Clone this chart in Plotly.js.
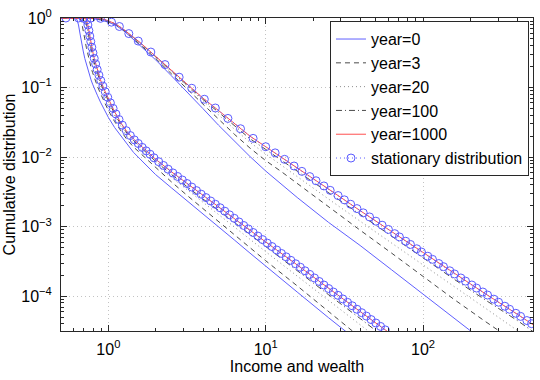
<!DOCTYPE html>
<html><head><meta charset="utf-8">
<script src="https://cdn.plot.ly/plotly-3.0.1.min.js"></script>
<style>html,body{margin:0;padding:0;background:#fff}#chart{width:540px;height:380px}</style>
</head><body><div id="chart"></div>
<script>
// ---------- DATA ----------
// Wealth (upper family): common x grid for the lines
const wealthX = [0.5, 0.708, 0.794, 0.891, 1, 1.122, 1.259, 1.413, 1.585, 1.995, 2.512, 3.162, 3.981, 5.012, 6.310, 7.943, 10, 12.59, 15.85, 25.12, 39.81, 63.10, 100, 158.5, 251.2, 398.1, 501.2];
const wealthYear0    = [1, 1, 0.985, 0.933, 0.871, 0.776, 0.646, 0.513, 0.407, 0.251, 0.148, 0.0871, 0.0501, 0.0288, 0.0170, 0.0102, 0.00631, 0.00407, 0.00263, 0.00115, 0.000537, 0.000240, 0.000107, 0.0000479, 0.0000214];
const wealthYear3    = [1, 1, 0.991, 0.955, 0.887, 0.791, 0.658, 0.527, 0.422, 0.263, 0.158, 0.0955, 0.0569, 0.0347, 0.0214, 0.0135, 0.00891, 0.00617, 0.00417, 0.00191, 0.000891, 0.000417, 0.000191, 0.0000891, 0.0000427, 0.0000209];
const wealthYear20   = [1, 1, 1, 0.984, 0.900, 0.802, 0.667, 0.537, 0.435, 0.272, 0.168, 0.104, 0.0638, 0.0405, 0.0254, 0.0163, 0.0111, 0.00764, 0.00518, 0.00249, 0.00120, 0.000582, 0.000277, 0.000134, 0.0000661, 0.0000324, 0.0000224];
const wealthYear100  = [1, 1, 1, 0.986, 0.908, 0.809, 0.673, 0.546, 0.442, 0.278, 0.174, 0.109, 0.0679, 0.0442, 0.0282, 0.0184, 0.0129, 0.00902, 0.00617, 0.00302, 0.00148, 0.000733, 0.000355, 0.000174, 0.0000871, 0.0000447, 0.0000309];
const wealthYear1000 = [1, 1, 1, 0.989, 0.912, 0.813, 0.676, 0.550, 0.447, 0.282, 0.178, 0.112, 0.0708, 0.0468, 0.0302, 0.0200, 0.0141, 0.0100, 0.00692, 0.00347, 0.00170, 0.000851, 0.000417, 0.000209, 0.000107, 0.0000550, 0.0000389];
// Wealth stationary distribution (circle markers)
const wealthStatX = [0.537, 0.776, 0.891, 1.047, 1.175, 1.349, 1.549, 1.862, 2.291, 2.818, 3.388, 4.074, 4.786, 5.754, 6.918, 8.318, 10, 11.48, 13.18, 15.14, 16.98, 19.05, 20.89, 23.44, 25.70, 28.84, 31.62, 34.67, 38.02, 41.69, 45.71, 50.12, 54.95, 60.26, 66.07, 70.79, 77.62, 83.18, 91.20, 97.72, 107.2, 114.8, 125.9, 134.9, 147.9, 158.5, 173.8, 186.2, 204.2, 218.8, 239.9, 257.0, 281.8, 302.0, 331.1, 354.8, 389.0, 416.9, 457.1, 489.8];
const wealthStatY = [1, 1, 0.989, 0.871, 0.755, 0.597, 0.466, 0.324, 0.214, 0.141, 0.0977, 0.0679, 0.0508, 0.0360, 0.0256, 0.0186, 0.0141, 0.0115, 0.00929, 0.00745, 0.00624, 0.00525, 0.00457, 0.00385, 0.00333, 0.00280, 0.00243, 0.00210, 0.00182, 0.00158, 0.00138, 0.00120, 0.00105, 0.000912, 0.000793, 0.000712, 0.000617, 0.000555, 0.000481, 0.000432, 0.000376, 0.000339, 0.000295, 0.000266, 0.000232, 0.000209, 0.000183, 0.000165, 0.000145, 0.000131, 0.000115, 0.000104, 0.0000907, 0.0000820, 0.0000718, 0.0000649, 0.0000568, 0.0000513, 0.0000447, 0.0000403];

// Income (lower family): common x grid for the lines
const incomeX = [0.5, 0.603, 0.631, 0.646, 0.661, 0.676, 0.692, 0.708, 0.724, 0.741, 0.759, 0.776, 0.794, 0.813, 0.851, 0.891, 0.933, 1, 1.096, 1.202, 1.318, 1.445, 1.660, 1.995, 2.512, 3.162, 3.981, 5.012, 6.310, 7.943, 10, 15.85, 25.12, 39.81, 63.10];
const incomeYear0    = [1, 1, 0.955, 0.794, 0.589, 0.427, 0.335, 0.263, 0.216, 0.178, 0.151, 0.129, 0.112, 0.0977, 0.0776, 0.0617, 0.0501, 0.0372, 0.0266, 0.0204, 0.0151, 0.0117, 0.00851, 0.00562, 0.00363, 0.00234, 0.00151, 0.001, 0.000646, 0.000417, 0.000269, 0.000115, 0.0000490, 0.0000214];
const incomeYear3    = [1, 1, 1, 0.989, 0.977, 0.871, 0.684, 0.501, 0.380, 0.295, 0.240, 0.195, 0.164, 0.140, 0.105, 0.0822, 0.0653, 0.0468, 0.0324, 0.0237, 0.0176, 0.0140, 0.0104, 0.00708, 0.00442, 0.00282, 0.00182, 0.00120, 0.000776, 0.000501, 0.000324, 0.000141, 0.0000603, 0.0000257];
const incomeYear20   = [1, 1, 1, 1, 1, 1, 0.977, 0.871, 0.684, 0.501, 0.380, 0.295, 0.240, 0.195, 0.140, 0.105, 0.0822, 0.0589, 0.0389, 0.0275, 0.0202, 0.0158, 0.0116, 0.00794, 0.00513, 0.00339, 0.00224, 0.00151, 0.001, 0.000661, 0.000437, 0.000195, 0.0000871, 0.0000389, 0.0000174];
const incomeYear100  = [1, 1, 1, 1, 1, 1, 1, 0.966, 0.841, 0.646, 0.468, 0.363, 0.282, 0.229, 0.158, 0.117, 0.0902, 0.0638, 0.0417, 0.0292, 0.0219, 0.0173, 0.0127, 0.00871, 0.00565, 0.00376, 0.00251, 0.00172, 0.00115, 0.000767, 0.000513, 0.000234, 0.000105, 0.0000479, 0.0000214];
const incomeYear1000 = [1, 1, 1, 1, 1, 1, 1, 0.989, 0.955, 0.794, 0.589, 0.427, 0.335, 0.263, 0.178, 0.129, 0.0977, 0.0692, 0.0447, 0.0309, 0.0229, 0.0182, 0.0135, 0.00933, 0.00617, 0.00417, 0.00282, 0.00195, 0.00132, 0.000891, 0.000603, 0.000282, 0.000129, 0.0000603, 0.0000282];
// Income stationary distribution (circle markers)
const incomeStatX = [0.646, 0.692, 0.726, 0.741, 0.752, 0.762, 0.773, 0.785, 0.798, 0.813, 0.830, 0.849, 0.871, 0.895, 0.923, 0.955, 0.991, 1.030, 1.072, 1.117, 1.169, 1.227, 1.300, 1.380, 1.462, 1.549, 1.641, 1.738, 1.841, 1.950, 2.089, 2.239, 2.399, 2.570, 2.754, 2.951, 3.162, 3.388, 3.631, 3.890, 4.169, 4.467, 4.786, 5.129, 5.495, 5.888, 6.310, 6.761, 7.244, 7.762, 8.318, 8.913, 9.550, 10.23, 10.96, 11.75, 12.59, 13.49, 14.45, 15.49, 16.60, 17.78, 19.05, 20.42, 21.88, 23.44, 25.12, 26.92, 28.84, 30.90, 33.11, 35.48, 38.02, 40.74, 43.65, 46.77, 50.12, 53.70, 57.54];
const incomeStatY = [1, 1, 0.933, 0.794, 0.661, 0.550, 0.457, 0.380, 0.316, 0.263, 0.219, 0.182, 0.151, 0.126, 0.105, 0.0871, 0.0724, 0.0603, 0.0501, 0.0417, 0.0347, 0.0288, 0.0240, 0.0204, 0.0177, 0.0157, 0.0138, 0.0123, 0.0110, 0.00977, 0.00859, 0.00759, 0.00670, 0.00593, 0.00527, 0.00469, 0.00417, 0.00371, 0.00330, 0.00293, 0.00262, 0.00234, 0.00210, 0.00187, 0.00167, 0.00148, 0.00132, 0.00117, 0.00104, 0.000927, 0.000824, 0.000733, 0.000652, 0.000580, 0.000518, 0.000462, 0.000412, 0.000368, 0.000328, 0.000293, 0.000261, 0.000232, 0.000206, 0.000183, 0.000163, 0.000145, 0.000129, 0.000115, 0.000103, 0.0000915, 0.0000817, 0.0000729, 0.0000650, 0.0000580, 0.0000518, 0.0000462, 0.0000412, 0.0000368, 0.0000328];

const seriesNames = ['year=0', 'year=3', 'year=20', 'year=100', 'year=1000', 'stationary distribution'];
const xTickVals = [1, 10, 100];
const xTickText = ['10<sup>0</sup>', '10<sup>1</sup>', '10<sup>2</sup>'];
const yTickVals = [1e-4, 1e-3, 1e-2, 1e-1, 1];
const yTickText = ['10<sup>\u22124</sup>', '10<sup>\u22123</sup>', '10<sup>\u22122</sup>', '10<sup>\u22121</sup>', '10<sup>0</sup>'];

// ---------- STYLE ----------
const FONT = '"Liberation Sans", Arial, Helvetica, sans-serif';
const lineStyles = [
  {color: 'rgb(95,95,255)', width: 1, dash: 'solid'},
  {color: 'rgb(75,75,75)', width: 1, dash: '5px,4px'},
  {color: 'rgb(140,140,140)', width: 1, dash: '1px,3px'},
  {color: 'rgb(75,75,75)', width: 1, dash: '6px,3px,1px,3px'},
  {color: 'rgb(255,80,80)', width: 1, dash: 'solid'}
];
const circleColor = 'rgb(90,90,255)';

const yearSeries = [
  [incomeYear0, wealthYear0],
  [incomeYear3, wealthYear3],
  [incomeYear20, wealthYear20],
  [incomeYear100, wealthYear100],
  [incomeYear1000, wealthYear1000]
];

const traces = [];
yearSeries.forEach((pair, i) => {
  traces.push({x: incomeX, y: pair[0], type: 'scatter', mode: 'lines', name: seriesNames[i],
    legendgroup: 'g' + i, line: lineStyles[i], hoverinfo: 'skip'});
  traces.push({x: wealthX, y: pair[1], type: 'scatter', mode: 'lines', name: seriesNames[i],
    legendgroup: 'g' + i, showlegend: false, line: lineStyles[i], hoverinfo: 'skip'});
});
const statStyle = {
  type: 'scatter', mode: 'lines+markers',
  line: {color: circleColor, width: 1, dash: '1px,3px'},
  marker: {symbol: 'circle-open', size: 8, color: circleColor, line: {width: 1, color: circleColor}},
  hoverinfo: 'skip'
};
traces.push(Object.assign({x: incomeStatX, y: incomeStatY, name: seriesNames[5], legendgroup: 'g5'}, statStyle));
traces.push(Object.assign({x: wealthStatX, y: wealthStatY, name: seriesNames[5], legendgroup: 'g5', showlegend: false}, statStyle));

const axisColor = 'rgb(40,40,40)';
const xMinor = [0.6, 0.7, 0.8, 0.9, 2, 3, 4, 5, 6, 7, 8, 9, 20, 30, 40, 50, 60, 70, 80, 90, 200, 300, 400];
const yMinor = [4e-5, 5e-5, 6e-5, 7e-5, 8e-5, 9e-5, 2e-4, 3e-4, 4e-4, 5e-4, 6e-4, 7e-4, 8e-4, 9e-4,
  2e-3, 3e-3, 4e-3, 5e-3, 6e-3, 7e-3, 8e-3, 9e-3, 0.02, 0.03, 0.04, 0.05, 0.06, 0.07, 0.08, 0.09,
  0.2, 0.3, 0.4, 0.5, 0.6, 0.7, 0.8, 0.9];

const commonAxis = {
  type: 'log', tickmode: 'array', ticks: 'inside', ticklen: 6, tickwidth: 1, tickcolor: axisColor,
  showline: true, linecolor: axisColor, linewidth: 1, mirror: 'allticks',
  showgrid: true, gridcolor: 'rgb(195,195,195)', gridwidth: 1, griddash: '1px,3px',
  zeroline: false, tickfont: {family: FONT, size: 16, color: '#000'}
};

const layout = {
  width: 540, height: 380,
  margin: {l: 61, r: 7, t: 18, b: 49},
  paper_bgcolor: '#fff', plot_bgcolor: '#fff',
  font: {family: FONT, size: 16, color: '#000'},
  showlegend: true,
  legend: {x: 0.9915, xanchor: 'right', y: 0.99, yanchor: 'top',
    bgcolor: '#fff', bordercolor: axisColor, borderwidth: 1,
    font: {family: FONT, size: 16, color: '#000'}, tracegroupgap: 0},
  xaxis: Object.assign({}, commonAxis, {
    range: [Math.log10(0.5), Math.log10(500)],
    tickvals: xTickVals, ticktext: xTickText, ticklabelstandoff: 4,
    minor: {tickmode: 'array', tickvals: xMinor, ticks: 'inside', ticklen: 3, tickcolor: axisColor, showgrid: false},
    title: {text: 'Income and wealth', font: {family: FONT, size: 16, color: '#000'}, standoff: 2}
  }),
  yaxis: Object.assign({}, commonAxis, {
    range: [-4.5, 0],
    tickvals: yTickVals, ticktext: yTickText, ticklabelstandoff: 5,
    minor: {tickmode: 'array', tickvals: yMinor, ticks: 'inside', ticklen: 3, tickcolor: axisColor, showgrid: false},
    title: {text: 'Cumulative distribution', font: {family: FONT, size: 16, color: '#000'}, standoff: 1}
  })
};

Plotly.newPlot('chart', traces, layout, {staticPlot: true, displayModeBar: false});
</script>
</body></html>
